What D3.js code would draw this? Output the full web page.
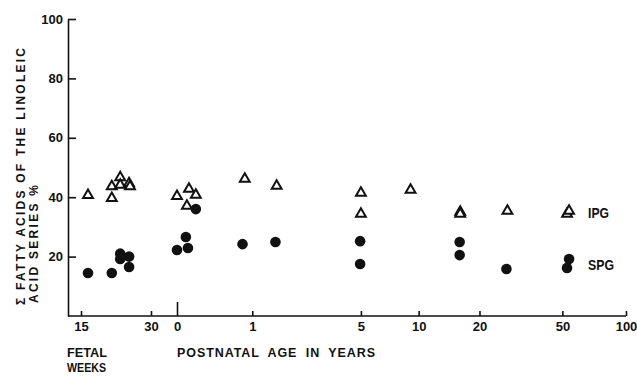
<!DOCTYPE html>
<html>
<head>
<meta charset="utf-8">
<script src="https://cdn.jsdelivr.net/npm/d3@7"></script>
<style>
  body { margin: 0; background: #fff; }
  text { font-family: "Liberation Sans", Arial, sans-serif; font-weight: bold; fill: #111; }
</style>
</head>
<body>
<svg id="chart" width="637" height="376"></svg>
<script>
// fetal samples, x in gestational weeks
var fetalIpgWeeks = [16.5, 21.6, 21.6, 23.4, 23.4, 25.3, 25.5];
var fetalIPG      = [41, 44, 40, 47, 44.5, 45, 44];
var fetalSpgWeeks = [16.5, 21.6, 23.4, 23.4, 25.3, 25.3];
var fetalSPG      = [14.5, 14.5, 21, 19.2, 20, 16.5];

// postnatal samples, x in years
var postIpgAge = [0, 0.11, 0.18, 0.09, 0.86, 1.54, 5.0, 5.0, 9.1, 16.1, 16.1, 27.3, 52.6, 53.8];
var postIPG    = [40.7, 43.1, 41.1, 37.4, 46.5, 44.1, 41.8, 34.7, 42.8, 35.4, 34.7, 35.7, 34.7, 35.7];
var postSpgAge = [0.18, 0.08, 0, 0.10, 0.82, 1.51, 4.95, 4.95, 16.0, 16.0, 27.0, 53.8, 52.6];
var postSPG    = [36.0, 26.6, 22.2, 22.9, 24.2, 24.9, 25.2, 17.5, 24.9, 20.5, 15.8, 19.2, 16.2];

var weekTicks = [15, 30];
var yearTicks = [0, 1, 5, 10, 20, 50, 100];
var yTicks = [20, 40, 60, 80, 100];

// the age axis is logarithmic in age since conception (~0.8 yr before birth)
var OFFSET = 0.8;

var svg = d3.select('#chart');

var y = d3.scaleLinear().domain([0, 100]).range([316, 19]);
var xFetal = d3.scaleLinear().domain([15, 30]).range([81, 151]);
var xPost = d3.scaleLog().domain([OFFSET, 100 + OFFSET]).range([177, 626]);

function styleAxis(g) {
  g.attr('font-family', null).attr('font-size', null);
  g.selectAll('line, path').attr('stroke', '#111').attr('stroke-width', 1.6);
  g.selectAll('text').attr('font-size', 13).attr('fill', '#111');
}

// narrow lettering like the original
function squeeze(sel, w) {
  return sel.attr('textLength', w).attr('lengthAdjust', 'spacingAndGlyphs');
}

// y axis, ticks pointing in
svg.append('g')
  .attr('transform', 'translate(68,0)')
  .call(d3.axisLeft(y).tickValues(yTicks).tickSize(-8).tickSizeOuter(0).tickPadding(5))
  .call(styleAxis);

// x axis: one baseline, two tick sets
svg.append('line')
  .attr('x1', 68).attr('x2', xPost(100 + OFFSET))
  .attr('y1', y(0)).attr('y2', y(0))
  .attr('stroke', '#111').attr('stroke-width', 1.6);

svg.append('g')
  .attr('transform', 'translate(0,' + y(0) + ')')
  .call(d3.axisBottom(xFetal).tickValues(weekTicks).tickSize(-5).tickPadding(6))
  .call(function(g) { g.select('.domain').remove(); })
  .call(styleAxis);

var gPost = svg.append('g')
  .attr('transform', 'translate(0,' + y(0) + ')')
  .call(d3.axisBottom(xPost)
    .tickValues(yearTicks.map(function(a) { return a + OFFSET; }))
    .tickFormat(function(d) { return Math.round(d - OFFSET); })
    .tickSize(-5).tickPadding(6))
  .call(function(g) { g.select('.domain').remove(); })
  .call(styleAxis);

// birth gets a taller tick
gPost.selectAll('.tick').filter(function(d) { return Math.round(d - OFFSET) === 0; })
  .select('line').attr('y2', -14);

// markers
var tri = d3.symbol().type(d3.symbolTriangle).size(42);
var marks = svg.append('g');

function triangles(xs, ys, sx) {
  marks.selectAll(null)
    .data(d3.zip(xs, ys))
    .join('path')
    .attr('d', tri)
    .attr('transform', function(d) { return 'translate(' + sx(d[0]) + ',' + (y(d[1]) + 1) + ')'; })
    .attr('fill', '#fff')
    .attr('stroke', '#111')
    .attr('stroke-width', 2);
}

function dots(xs, ys, sx) {
  marks.selectAll(null)
    .data(d3.zip(xs, ys))
    .join('circle')
    .attr('cx', function(d) { return sx(d[0]); })
    .attr('cy', function(d) { return y(d[1]); })
    .attr('r', 5.3)
    .attr('fill', '#111');
}

function post(a) { return xPost(a + OFFSET); }

dots(fetalSpgWeeks, fetalSPG, xFetal);
dots(postSpgAge, postSPG, post);
triangles(fetalIpgWeeks, fetalIPG, xFetal);
triangles(postIpgAge, postIPG, post);

// series labels
svg.append('text').attr('x', 588).attr('y', 218).attr('font-size', 14).call(squeeze, 21).text('IPG');
svg.append('text').attr('x', 588).attr('y', 270).attr('font-size', 14).call(squeeze, 26).text('SPG');

// axis titles
svg.append('text').attr('x', 67).attr('y', 357).attr('font-size', 12.5).call(squeeze, 40).text('FETAL');
svg.append('text').attr('x', 67).attr('y', 372).attr('font-size', 12.5).call(squeeze, 39).text('WEEKS');
svg.append('text').attr('x', 177).attr('y', 357).attr('font-size', 12.5)
  .attr('textLength', 198).attr('lengthAdjust', 'spacing')
  .attr('word-spacing', 4).text('POSTNATAL AGE IN YEARS');

svg.append('text')
  .attr('transform', 'translate(25,305) rotate(-90)')
  .attr('font-size', 12)
  .attr('textLength', 257).attr('lengthAdjust', 'spacing')
  .text('\u03a3 FATTY ACIDS OF THE LINOLEIC');
svg.append('text')
  .attr('transform', 'translate(38,303) rotate(-90)')
  .attr('font-size', 12)
  .attr('textLength', 118).attr('lengthAdjust', 'spacing')
  .text('ACID SERIES %');
</script>
</body>
</html>
